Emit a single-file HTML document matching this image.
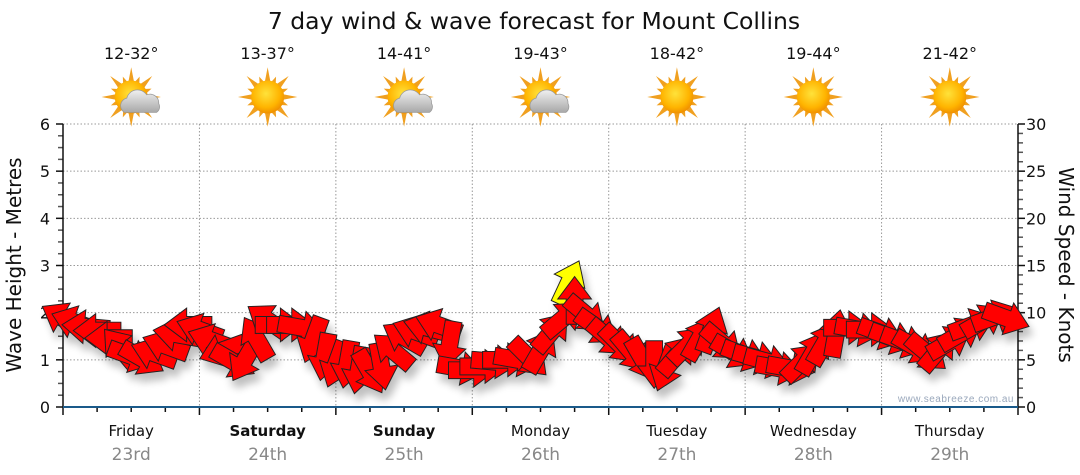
<!DOCTYPE html>
<html><head><meta charset="utf-8"><style>
body{margin:0;background:#fff;}
svg{display:block;font-family:"DejaVu Sans","Liberation Sans",sans-serif;}
</style></head><body>
<svg id="chart" width="1080" height="475" viewBox="0 0 1080 475" xmlns="http://www.w3.org/2000/svg">
<defs>
<filter id="sh" x="-50%" y="-50%" width="200%" height="200%"><feGaussianBlur in="SourceAlpha" stdDeviation="4"/><feOffset dx="4" dy="8"/><feComponentTransfer><feFuncA type="linear" slope="0.25"/></feComponentTransfer><feMerge><feMergeNode/><feMergeNode in="SourceGraphic"/></feMerge></filter>
<radialGradient id="sun" cx="45%" cy="40%" r="60%"><stop offset="0" stop-color="#ffe23a"/><stop offset="0.7" stop-color="#ffb400"/><stop offset="1" stop-color="#f09000"/></radialGradient>
<linearGradient id="cloud" x1="0" y1="0" x2="0" y2="1"><stop offset="0" stop-color="#f0f0f0"/><stop offset="1" stop-color="#a8a8a8"/></linearGradient>
</defs>
<text x="534" y="29" text-anchor="middle" font-size="23.5" fill="#111">7 day wind &amp; wave forecast for Mount Collins</text>
<g id="grid"></g>
<g id="axes"></g>
<g id="wx"></g>
<g id="arrows" filter="url(#sh)"></g>
<text x="1014" y="402" text-anchor="end" font-size="10" fill="#9aa8bc" font-family="Liberation Sans, sans-serif" letter-spacing="0.5">www.seabreeze.com.au</text>
<text transform="translate(21,265) rotate(-90)" text-anchor="middle" font-size="20" fill="#111">Wave Height - Metres</text>
<text transform="translate(1059,265) rotate(90)" text-anchor="middle" font-size="20" fill="#111">Wind Speed - Knots</text>
</svg>
<script>
const days=["Friday","Saturday","Sunday","Monday","Tuesday","Wednesday","Thursday"];
const dates=["23rd","24th","25th","26th","27th","28th","29th"];
const boldDays=[false,true,true,false,false,false,false];
const temps=["12-32°","13-37°","14-41°","19-43°","18-42°","19-44°","21-42°"];
const cloudy=[true,false,true,true,false,false,false];
const waveTicks=[0,1,2,3,4,5,6];
const windTicks=[0,5,10,15,20,25,30];
const hours=[0,2,4,6,8,10,12,14,16,18,20,22,24,26,28,30,32,34,36,38,40,42,44,46,48,50,52,54,56,58,60,62,64,66,68,70,72,74,76,78,80,82,84,86,88,90,92,94,96,98,100,102,104,106,108,110,112,114,116,118,120,122,124,126,128,130,132,134,136,138,140,142,144,146,148,150,152,154,156,158,160,162,164,166];
const speeds=[9.4,9.0,8.5,8.1,7.3,6.3,5.4,5.1,5.7,6.5,7.7,8.7,8.2,7.1,6.0,4.8,5.0,7.3,9.2,8.7,8.7,8.4,7.1,5.3,4.5,4.5,3.9,3.7,4.3,6.0,7.4,8.0,8.4,8.7,6.6,4.1,3.9,4.3,4.8,5.0,5.0,5.2,6.0,8.0,9.4,11.3,9.8,8.4,7.3,6.6,5.8,5.0,4.5,4.1,5.5,6.6,7.3,8.2,6.8,5.8,5.5,5.2,4.8,4.1,4.1,4.8,5.8,6.8,7.8,8.4,8.2,8.2,7.8,7.3,6.9,6.3,5.7,6.0,6.9,7.8,8.7,9.2,9.6,9.4];
const dirs=[210,200,185,180,180,230,20,30,200,200,190,180,200,200,160,30,120,240,215,0,0,10,110,100,110,100,100,60,80,220,210,200,195,200,100,10,0,0,5,0,10,45,-60,-50,-40,-90,40,35,40,45,50,60,90,110,-50,-45,-60,-70,40,30,20,15,15,10,10,-45,-60,-60,-80,0,10,0,20,20,20,30,40,-50,-30,-30,-20,-30,-20,20];
const gustHours=[89];
const gustSpeeds=[13.2];
const gustDirs=[-65];

const NS="http://www.w3.org/2000/svg";
const X0=63,X1=1018,Y0=407,Y1=124;
const xH=h=>X0+h*(X1-X0)/168;
const yM=m=>Y0-m*(Y0-Y1)/6;
const yK=k=>Y0-k*(Y0-Y1)/30;
function mk(tag,attrs,parent){const e=document.createElementNS(NS,tag);for(const k in attrs)e.setAttribute(k,attrs[k]);parent.appendChild(e);return e;}
const grid=document.getElementById('grid'),axes=document.getElementById('axes'),wx=document.getElementById('wx'),arr=document.getElementById('arrows');

waveTicks.forEach(t=>{
  if(t>0){const l=mk('line',{x1:X0,x2:X1,y1:yM(t),y2:yM(t),stroke:'#999','stroke-dasharray':'1.5,2'},grid);
  
  }
  const tx=mk('text',{x:50,y:yM(t)+6,'text-anchor':'end','font-size':16,fill:'#111'},axes);tx.textContent=t;
  
  
});
for(let m=0;m<=24;m++){mk('line',{x1:m%4==0?56:58,x2:X0,y1:yM(m/4),y2:yM(m/4),stroke:m%4==0?'#111':'#555','stroke-width':1.5},axes);}
windTicks.forEach(t=>{
  const tx=mk('text',{x:1026,y:yK(t)+6,'font-size':16,fill:'#111'},axes);tx.textContent=t;
  
  
});
for(let k=0;k<=30;k++){mk('line',{x1:X1,x2:k%5==0?1025:1023,y1:yK(k),y2:yK(k),stroke:k%5==0?'#111':'#555','stroke-width':1.5},axes);}
mk('line',{x1:X0,x2:X0,y1:Y1,y2:Y0,stroke:'#111','stroke-width':1.5},axes);
mk('line',{x1:X1,x2:X1,y1:Y1,y2:Y0,stroke:'#111','stroke-width':1.5},axes);
for(let d=0;d<=7;d++){
  if(d>0&&d<7){const l=mk('line',{x1:xH(d*24),x2:xH(d*24),y1:Y1,y2:Y0,stroke:'#999','stroke-dasharray':'1.5,2'},grid);
  
  }
}
for(let h=0;h<=168;h+=6){mk('line',{x1:xH(h),x2:xH(h),y1:Y0,y2:h%24==0?415:412,stroke:'#111','stroke-width':1.5},axes);}
mk('line',{x1:X0,x2:X1,y1:Y0,y2:Y0,stroke:'#1a5a8a','stroke-width':2},axes);

days.forEach((d,i)=>{
  const cx=xH(i*24+12);
  const t1=mk('text',{x:cx,y:436,'text-anchor':'middle','font-size':15,fill:'#111','font-weight':boldDays[i]?'bold':'normal'},axes);t1.textContent=d;
  
  
  const t2=mk('text',{x:cx,y:460,'text-anchor':'middle','font-size':17,fill:'#888'},axes);t2.textContent=dates[i];
  
  
  const t3=mk('text',{x:cx,y:59,'text-anchor':'middle','font-size':16,fill:'#111'},wx);t3.textContent=temps[i];
  
  
  const g=mk('g',{transform:`translate(${cx},97) scale(1.1)`},wx);
  
  
  for(let r=0;r<16;r++){const a=r*Math.PI/8,L=r%2?20:27;
    mk('polygon',{points:`${Math.cos(a)*L},${Math.sin(a)*L} ${Math.cos(a+0.25)*12},${Math.sin(a+0.25)*12} ${Math.cos(a-0.25)*12},${Math.sin(a-0.25)*12}`,fill:'#f0a020'},g);}
  mk('circle',{r:15,fill:'url(#sun)'},g);
  if(cloudy[i]){mk('path',{d:'M-6,14 a7,7 0 0 1 2,-13 a10,10 0 0 1 18,-3 a8,8 0 0 1 11,8 a6,6 0 0 1 -2,8 z',fill:'url(#cloud)',stroke:'#999','stroke-width':0.7},g);}
});

function arrow(h,k,dir,fill){
  const g=mk('g',{transform:`translate(${xH(h)},${yK(k)}) rotate(${dir}) scale(1.4)`},arr);
  mk('polygon',{points:'17,0 1,-12 1,-6 -17,-6 -17,6 1,6 1,12',fill:fill,stroke:'#222','stroke-width':0.7,'stroke-linejoin':'miter'},g);
  return g;
}
hours.forEach((h,i)=>{const g=arrow(h,speeds[i],dirs[i],'#ff0000');
  
  });
gustHours.forEach((h,i)=>{const g=arrow(h,gustSpeeds[i],gustDirs[i],'#ffff00');
  
  
  arr.insertBefore(g,arr.firstChild);});
</script>
</body></html>
